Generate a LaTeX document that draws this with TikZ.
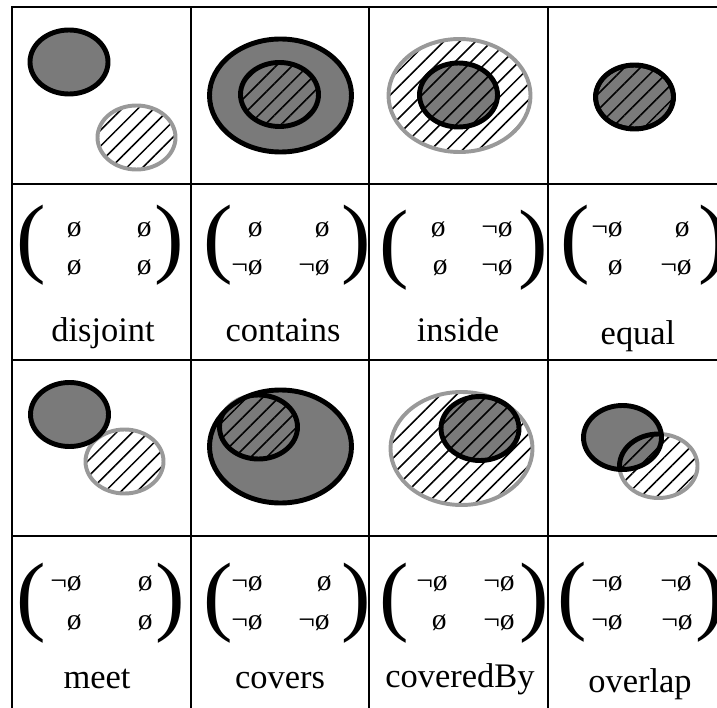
\documentclass[tikz,border=0pt]{standalone}
\usepackage{fontspec}
\setmainfont{Liberation Serif}
\usetikzlibrary{patterns.meta}
\tikzset{
  gridline/.style={line width=1.9pt, line cap=rect},
  regiona/.style={fill=black!52},
  regionb/.style={pattern={Lines[angle=45,distance=8pt,line width=1.1pt]}},
  bounda/.style={draw=black, line width=3.5pt},
  boundb/.style={draw=black!40, line width=2.8pt},
  paren/.style={inner sep=0pt, font=\fontsize{63}{63}\selectfont},
  entry/.style={inner sep=0pt, anchor=east, font=\fontsize{21}{23}\selectfont},
  relname/.style={inner sep=0pt, anchor=base, font=\fontsize{24.5}{27}\selectfont}
}
\newcommand{\relpair}[8]{%
  \path[regiona] (#1,#2) ellipse [x radius=#3, y radius=#4];
  \path[regionb] (#5,#6) ellipse [x radius=#7, y radius=#8];
  \draw[boundb] (#5,#6) ellipse [x radius=#7, y radius=#8];
  \begin{scope}
    \clip (#1,#2) ellipse [x radius=#3, y radius=#4];
    \draw[bounda] (#5,#6) ellipse [x radius=#7, y radius=#8];
  \end{scope}
  \draw[bounda] (#1,#2) ellipse [x radius=#3, y radius=#4];
}

\begin{document}
\begin{tikzpicture}[x=0.025cm,y=-0.025cm]
  \useasboundingbox (0,0) rectangle (717,708);
  \clip (0,0) rectangle (717,708);

  \draw[gridline] (12,720) |- (730,7);
  \draw[gridline] (191,7) -- (191,720);
  \draw[gridline] (369,7) -- (369,720);
  \draw[gridline] (548,7) -- (548,720);
  \draw[gridline] (12,184) -- (730,184);
  \draw[gridline] (12,360) -- (730,360);
  \draw[gridline] (12,536) -- (730,536);

  \relpair{69}{62}{39}{32}{136.5}{137.5}{39}{32}
  \relpair{280.5}{95.5}{71}{56.5}{279.5}{94.5}{39}{32}
  \relpair{458.5}{95}{39}{32}{459.5}{95.5}{71}{56.5}
  \relpair{634.5}{97}{39}{32}{634.5}{97}{39}{32}
  \relpair{69.5}{414.5}{39}{32}{124.5}{461.5}{39}{32}
  \relpair{280.5}{446.5}{71}{56.5}{258.5}{427}{39}{32}
  \relpair{480}{428.5}{39}{32}{461.5}{448.5}{71}{56.5}
  \relpair{622.5}{437.5}{39}{32}{658.5}{466}{39}{32}

  \node[paren] (disjoint-l) at (31.5,245) {(};
  \node[paren] (disjoint-r) at (169.5,245) {)};
  \node[entry] (disjoint-11) at (82,230) {ø};
  \node[entry] (disjoint-12) at (152,230) {ø};
  \node[entry] (disjoint-21) at (82,268) {ø};
  \node[entry] (disjoint-22) at (152,268) {ø};
  \node[relname] (disjoint) at (103,342) {disjoint};

  \node[paren] (contains-l) at (218,245) {(};
  \node[paren] (contains-r) at (356,245) {)};
  \node[entry] (contains-11) at (263,230) {ø};
  \node[entry] (contains-12) at (330,230) {ø};
  \node[entry] (contains-21) at (263,268) {¬ø};
  \node[entry] (contains-22) at (330,268) {¬ø};
  \node[relname] (contains) at (283,342) {contains};

  \node[paren] (inside-l) at (394,250) {(};
  \node[paren] (inside-r) at (533.5,250) {)};
  \node[entry] (inside-11) at (446,230) {ø};
  \node[entry] (inside-12) at (513,230) {¬ø};
  \node[entry] (inside-21) at (448,268) {ø};
  \node[entry] (inside-22) at (513,268) {¬ø};
  \node[relname] (inside) at (458,342) {inside};

  \node[paren] (equal-l) at (575,245) {(};
  \node[paren] (equal-r) at (713,245) {)};
  \node[entry] (equal-11) at (623,230) {¬ø};
  \node[entry] (equal-12) at (690,230) {ø};
  \node[entry] (equal-21) at (623,268) {ø};
  \node[entry] (equal-22) at (692,268) {¬ø};
  \node[relname] (equal) at (638,345) {equal};

  \node[paren] (meet-l) at (31.5,603) {(};
  \node[paren] (meet-r) at (170,603) {)};
  \node[entry] (meet-11) at (82,584) {¬ø};
  \node[entry] (meet-12) at (153,584) {ø};
  \node[entry] (meet-21) at (82,623) {ø};
  \node[entry] (meet-22) at (153,623) {ø};
  \node[relname] (meet) at (97,688) {meet};

  \node[paren] (covers-l) at (218,603) {(};
  \node[paren] (covers-r) at (356,603) {)};
  \node[entry] (covers-11) at (263,584) {¬ø};
  \node[entry] (covers-12) at (332,584) {ø};
  \node[entry] (covers-21) at (263,623) {¬ø};
  \node[entry] (covers-22) at (330,623) {¬ø};
  \node[relname] (covers) at (280,688) {covers};

  \node[paren] (coveredBy-l) at (394,603) {(};
  \node[paren] (coveredBy-r) at (534,603) {)};
  \node[entry] (coveredBy-11) at (448,584) {¬ø};
  \node[entry] (coveredBy-12) at (515,584) {¬ø};
  \node[entry] (coveredBy-21) at (447,623) {ø};
  \node[entry] (coveredBy-22) at (515,623) {¬ø};
  \node[relname] (coveredBy) at (460,687) {coveredBy};

  \node[paren] (overlap-l) at (572,602) {(};
  \node[paren] (overlap-r) at (710,602) {)};
  \node[entry] (overlap-11) at (623,584) {¬ø};
  \node[entry] (overlap-12) at (692,584) {¬ø};
  \node[entry] (overlap-21) at (623,623) {¬ø};
  \node[entry] (overlap-22) at (693,623) {¬ø};
  \node[relname] (overlap) at (640,692) {overlap};
\end{tikzpicture}
\end{document}
